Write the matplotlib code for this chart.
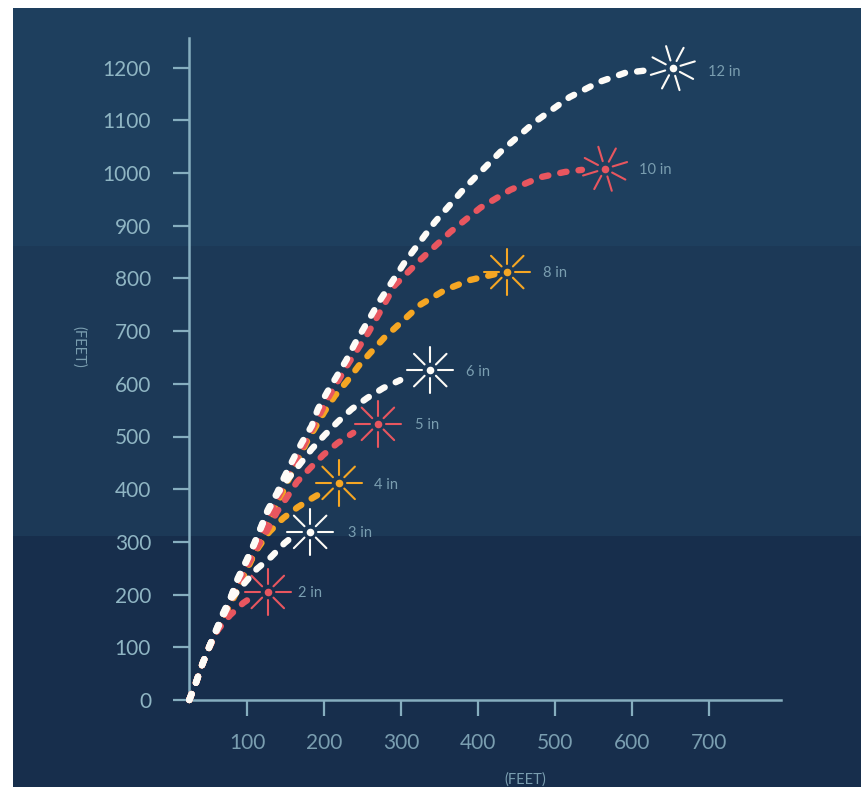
import numpy as np
import matplotlib
matplotlib.use("Agg")
import matplotlib.pyplot as plt
from matplotlib.patches import Rectangle

# launch height vs range for mortar shells (feet)
x_2in = [25, 34, 42, 51, 62, 78, 95, 100]
y_2in = [0, 34, 68, 101, 133, 161, 184, 189]
x_3in = [25, 34, 42, 51, 61, 71, 81, 97, 113, 131, 149, 155]
y_3in = [0, 34, 68, 101, 133, 165, 195, 222, 249, 271, 298, 305]
x_4in = [25, 34, 42, 51, 61, 71, 81, 92, 103, 115, 129, 147, 166, 187, 193]
y_4in = [0, 34, 68, 101, 133, 163, 195, 228, 260, 290, 319, 345, 366, 385, 390]
x_5in = [25, 34, 42, 51, 61, 71, 81, 91, 103, 115, 127, 139, 152, 165, 182, 199, 218, 238]
y_5in = [0, 34, 68, 101, 133, 163, 195, 228, 262, 294, 324, 357, 385, 414, 440, 465, 488, 507]
x_6in = [25, 34, 42, 51, 60, 69, 79, 88, 99, 109, 118, 127, 139, 153, 169, 184, 201, 218, 236, 256, 277, 299]
y_6in = [0, 34, 68, 101, 133, 163, 195, 228, 262, 294, 326, 358, 390, 419, 448, 476, 503, 528, 552, 573, 592, 607]
x_8in = [25, 34, 42, 51, 61, 71, 82, 103, 133, 156, 177, 189, 201, 214, 230, 245, 261, 278, 299, 325, 357, 390, 422]
y_8in = [0, 34, 68, 100, 131, 160, 192, 257, 350, 425, 488, 518, 548, 577, 605, 634, 660, 687, 715, 750, 778, 797, 808]
x_10in = [25, 34, 42, 51, 71, 102, 131, 163, 206, 231, 258, 292, 325, 364, 403, 442, 481, 513, 535]
y_10in = [0, 34, 68, 100, 162, 261, 357, 453, 575, 637, 698, 787, 835, 888, 934, 968, 992, 1002, 1006]
x_12in = [25, 34, 42, 51, 60, 69, 79, 88, 99, 109, 118, 127, 139, 149, 160, 171, 184, 192, 204,
          216, 229, 240, 273, 305, 344, 383, 429, 474, 519, 558, 591, 621]
y_12in = [0, 34, 68, 101, 133, 165, 195, 231, 264, 296, 328, 361, 393, 425, 457, 488, 520, 552, 584,
          613, 645, 676, 759, 831, 907, 972, 1040, 1097, 1144, 1173, 1190, 1195]

labels = ["2 in", "3 in", "4 in", "5 in", "6 in", "8 in", "10 in", "12 in"]
peak_x = [127, 182, 219, 270, 338, 438, 565, 653]
peak_y = [205, 319, 412, 524, 626, 812, 1008, 1199]
xticks = [100, 200, 300, 400, 500, 600, 700]
yticks = [0, 100, 200, 300, 400, 500, 600, 700, 800, 900, 1000, 1100, 1200]

WHITE = "#fdfbf7"
RED = "#e8565f"
ORANGE = "#f5a623"
AXIS = "#86aebf"
TEXT_Y = "#8fb5c3"
TEXT_X = "#7a9eb0"

W, H = 862, 787
fig = plt.figure(figsize=(W / 100, H / 100), dpi=100, facecolor="white")

# three background bands, pixel rows from the picture
for top, bottom, c in [(8, 246, "#1e3f5e"), (246, 536, "#1c3957"), (536, 787, "#172e4c")]:
    fig.add_artist(Rectangle((13 / W, 1 - bottom / H), (W - 13) / W, (bottom - top) / H,
                             transform=fig.transFigure, color=c, lw=0, zorder=-5))

# axes cover the whole figure, limits set so ticks land on the right pixels
sx, sy = 0.77, 0.527
ax = fig.add_axes([0, 0, 1, 1])
ax.patch.set_alpha(0)
ax.set_xlim(-170 / sx, (W - 170) / sx)
ax.set_ylim((700 - H) / sy, 700 / sy)

for s in ["top", "right"]:
    ax.spines[s].set_visible(False)
ax.spines["left"].set_position(("data", 25))
ax.spines["left"].set_bounds(0, 1256)
ax.spines["bottom"].set_position(("data", 0))
ax.spines["bottom"].set_bounds(25, 793)
for s in ["left", "bottom"]:
    ax.spines[s].set_color(AXIS)
    ax.spines[s].set_linewidth(1.8)

ax.set_xticks(xticks)
ax.set_yticks(yticks)
ax.tick_params(axis="x", color=AXIS, width=1.6, length=11.5, pad=12, labelcolor=TEXT_X, labelsize=15)
ax.tick_params(axis="y", color=AXIS, width=1.6, length=11.5, pad=16, labelcolor=TEXT_Y, labelsize=15)
for t in ax.get_xticklabels() + ax.get_yticklabels():
    t.set_family("Lato")

# dashes all start from the origin, so the shared stretch overlaps like the original
curves = [(x_8in, y_8in, ORANGE), (x_10in, y_10in, RED), (x_4in, y_4in, ORANGE), (x_5in, y_5in, RED),
          (x_2in, y_2in, RED), (x_3in, y_3in, WHITE), (x_6in, y_6in, WHITE), (x_12in, y_12in, WHITE)]
for xs, ys, c in curves:
    ax.plot(xs, ys, color=c, lw=4.6, linestyle=(0, (1.0, 1.9)), dash_capstyle="round", zorder=3)

star_colors = [RED, WHITE, ORANGE, RED, WHITE, ORANGE, RED, WHITE]
star_turn = [0, 0, 0, 0, 0, 0, 17, 17]
label_dx = [30, 38, 35, 37, 36, 36, 34, 35]
label_dy = [-1, -1, -2, -1, -2, -1, -1, -4]
for i in range(len(labels)):
    px, py, c = peak_x[i], peak_y[i], star_colors[i]
    ax.plot(px, py, "o", color=c, ms=5.5, mew=0, zorder=4)
    for a in np.radians(np.arange(0, 360, 45) + star_turn[i]):
        ax.plot([px + 8 * np.cos(a) / sx, px + 23 * np.cos(a) / sx],
                [py + 8 * np.sin(a) / sy, py + 23 * np.sin(a) / sy],
                color=c, lw=1.5, solid_capstyle="round", zorder=4)
    ax.annotate(labels[i], (px, py), xytext=(label_dx[i], label_dy[i]), textcoords="offset pixels",
                color=TEXT_X, fontsize=10.5, va="center", ha="left", family="Lato")

ax.text(461, -150, "(FEET)", color=TEXT_X, fontsize=10.5, ha="center", va="center", family="Lato")
ax.text(-119, 670, "(FEET)", color=TEXT_X, fontsize=10.5, ha="center", va="center", rotation=-90,
        family="Lato")

fig.savefig("out.png", dpi=100)
